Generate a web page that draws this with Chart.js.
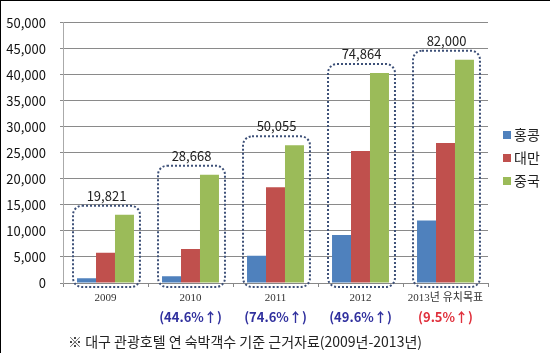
<!DOCTYPE html>
<html>
<head>
<meta charset="utf-8">
<script src="https://cdn.jsdelivr.net/npm/chart.js@4"></script>
<style>
    html, body { margin: 0; padding: 0; background: #fff; }
    #wrap { position: relative; width: 550px; height: 353px; box-sizing: border-box; border-top: 1px solid #000; border-left: 1px solid #000; }
</style>
</head>
<body>
<div id="wrap"><canvas id="chart" width="549" height="352"></canvas></div>
<script>
// Data
const years = ['2009', '2010', '2011', '2012', '2013년 유치목표'];
const hongkong = [900, 1300, 5250, 9200, 12000];
const taiwan = [5800, 6550, 18400, 25350, 26900];
const china = [13100, 20800, 26450, 40350, 42900];
const totals = ['19,821', '28,668', '50,055', '74,864', '82,000'];
const growth = ['', '(44.6%↑)', '(74.6%↑)', '(49.6%↑)', '(9.5%↑)'];
const seriesNames = ['홍콩', '대만', '중국'];
const seriesColors = ['#4f81bd', '#c0504d', '#9bbb59'];
const footnote = '※ 대구 관광호텔 연 숙박객수 기준 근거자료(2009년-2013년)';

const sansFont = '"Noto Sans CJK KR", "Noto Sans", sans-serif';

// Extras: dotted boxes, totals, growth labels, legend, footnote
const extrasPlugin = {
    id: 'extras',
    afterDatasetsDraw(chart) {
        const ctx = chart.ctx;
        const y = chart.scales.y;
        const metas = [0, 1, 2].map(i => chart.getDatasetMeta(i));

        ctx.save();
        years.forEach((label, i) => {
            const first = metas[0].data[i];
            const last = metas[2].data[i];
            const left = first.x - first.width / 2 - 4;
            const right = last.x + last.width / 2 + 6;
            const maxVal = Math.max(hongkong[i], taiwan[i], china[i]);
            const top = y.getPixelForValue(maxVal) - 9;
            const bottom = y.getPixelForValue(0) + 4;

            ctx.beginPath();
            ctx.setLineDash([2, 2]);
            ctx.lineWidth = 2;
            ctx.strokeStyle = '#3d5078';
            ctx.roundRect(left, top, right - left, bottom - top, 9);
            ctx.stroke();
            ctx.setLineDash([]);

            ctx.fillStyle = '#222';
            ctx.font = '13px ' + sansFont;
            ctx.textAlign = 'center';
            ctx.textBaseline = 'middle';
            ctx.fillText(totals[i], (left + right) / 2, top - 10);

            if (growth[i]) {
                const cx = chart.scales.x.getPixelForValue(i);
                ctx.font = 'bold 13px ' + sansFont;
                ctx.fillStyle = i === years.length - 1 ? '#e0303c' : '#30309e';
                ctx.fillText(growth[i], cx, 316);
            }
        });

        // legend
        ctx.textAlign = 'left';
        ctx.font = '14px ' + sansFont;
        seriesNames.forEach((name, i) => {
            const ly = 134 + i * 23;
            ctx.fillStyle = seriesColors[i];
            ctx.fillRect(502, ly - 4, 8, 8);
            ctx.fillStyle = '#222';
            ctx.fillText(name, 513, ly);
        });

        // footnote
        ctx.font = '14px ' + sansFont;
        ctx.fillStyle = '#222';
        ctx.fillText(footnote, 67, 341);
        ctx.restore();
    }
};

const ctx = document.getElementById('chart').getContext('2d');
new Chart(ctx, {
    type: 'bar',
    data: {
        labels: years,
        datasets: seriesNames.map((name, i) => ({
            label: name,
            data: [hongkong, taiwan, china][i],
            backgroundColor: seriesColors[i],
            borderWidth: 0,
            categoryPercentage: 0.67,
            barPercentage: 1.0
        }))
    },
    options: {
        responsive: false,
        animation: false,
        layout: { padding: { left: 0, right: 62, top: 16, bottom: 0 } },
        plugins: {
            legend: { display: false },
            tooltip: { enabled: false }
        },
        scales: {
            x: {
                grid: { drawOnChartArea: false, drawTicks: true, tickLength: 4, color: '#888' },
                border: { color: '#888' },
                ticks: {
                    color: '#333',
                    font: { family: '"Liberation Serif", "Noto Sans CJK KR", serif', size: 11 },
                    padding: 5
                },
                afterFit(scale) { scale.height = 70; }
            },
            y: {
                min: 0,
                max: 50000,
                grid: { color: '#8a8a8a', tickLength: 3 },
                border: { color: '#aaa' },
                ticks: {
                    stepSize: 5000,
                    color: '#111',
                    font: { family: sansFont, size: 13 },
                    padding: 14,
                    callback: v => v.toLocaleString('en-US')
                },
                afterFit(scale) { scale.width = 62; }
            }
        }
    },
    plugins: [extrasPlugin]
});
</script>
</body>
</html>
